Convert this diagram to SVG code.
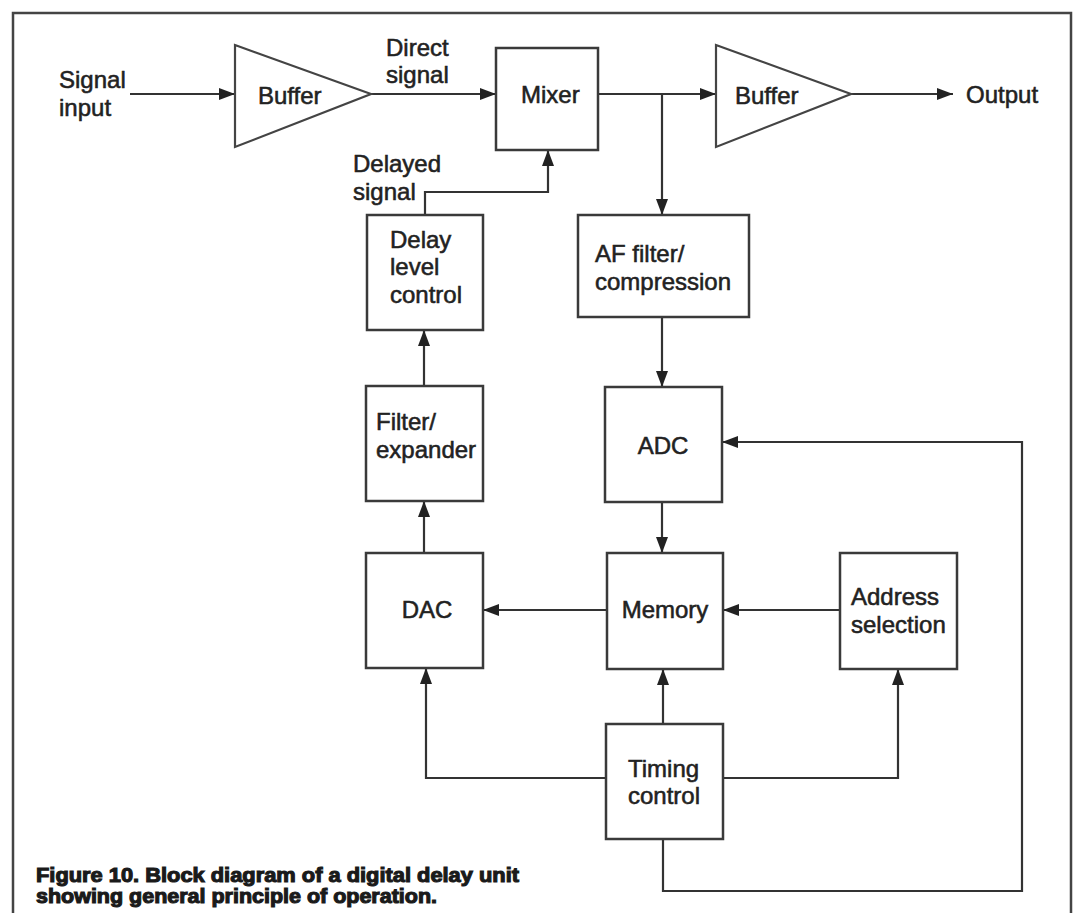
<svg xmlns="http://www.w3.org/2000/svg" width="1075" height="913" viewBox="0 0 1075 913">
<defs>
<style>
.box{fill:#fff;stroke:#3a3a3a;stroke-width:2.5}
.amp{fill:#fff;stroke:#444;stroke-width:2.2;stroke-linejoin:miter}
.lbl{font-family:"Liberation Sans",Arial,sans-serif;font-size:24px;fill:#222;stroke:#222;stroke-width:0.55}
.mid{text-anchor:middle}
.wire{fill:none;stroke:#333;stroke-width:2.2}
.arr{marker-end:url(#ah)}
.cap{font-family:"Liberation Sans",Arial,sans-serif;font-size:20px;font-weight:bold;fill:#1a1a1a;stroke:#1a1a1a;stroke-width:1.1}
.frame{fill:none;stroke:#444;stroke-width:2.5}
</style>
<marker id="ah" markerUnits="userSpaceOnUse" markerWidth="16" markerHeight="12" refX="16" refY="6" orient="auto">
<path d="M0,0 L16,6 L0,12 z" fill="#222"/>
</marker>
</defs>
<rect width="1075" height="913" fill="#fff"/>
<path class="frame" d="M13,913 V13 H1071 V913"/>

<g id="connectors">
<path class="wire arr" d="M130,94 H235"/>
<path class="wire arr" d="M371,94 H496"/>
<path class="wire arr" d="M598,94 H716"/>
<path class="wire arr" d="M662,94 V215"/>
<path class="wire arr" d="M851,94 H953"/>
<path class="wire arr" d="M425,215 V192 H548 V150"/>
<path class="wire arr" d="M424,386 V330"/>
<path class="wire arr" d="M424,553 V501"/>
<path class="wire arr" d="M662,317 V387"/>
<path class="wire arr" d="M662,502 V553"/>
<path class="wire arr" d="M607,610 H483"/>
<path class="wire arr" d="M840,610 H723"/>
<path class="wire arr" d="M663,724 V669"/>
<path class="wire arr" d="M723,778 H898 V669"/>
<path class="wire arr" d="M606,778 H426 V668"/>
<path class="wire arr" d="M663,839 V891 H1022 V442 H722"/>
</g>

<g id="signal-input"><text class="lbl" x="59" y="88">Signal</text><text class="lbl" x="59" y="116">input</text></g>
<g id="buffer-in"><polygon class="amp" points="235,45 371,94 235,147"/><text class="lbl" x="258" y="104">Buffer</text></g>
<g id="direct-signal"><text class="lbl" x="386" y="56">Direct</text><text class="lbl" x="386" y="83">signal</text></g>
<g id="mixer"><rect class="box" x="496" y="48" width="102" height="102"/><text class="lbl" x="521" y="103">Mixer</text></g>
<g id="buffer-out"><polygon class="amp" points="716,45 851,94 716,147"/><text class="lbl" x="735" y="104">Buffer</text></g>
<g id="output"><text class="lbl" x="966" y="103">Output</text></g>
<g id="delayed-signal"><text class="lbl" x="353" y="172">Delayed</text><text class="lbl" x="353" y="200">signal</text></g>
<g id="delay-level"><rect class="box" x="367" y="215" width="116" height="115"/><text class="lbl" x="390" y="248">Delay</text><text class="lbl" x="390" y="275">level</text><text class="lbl" x="390" y="303">control</text></g>
<g id="af-filter"><rect class="box" x="578" y="215" width="171" height="102"/><text class="lbl" x="595" y="262">AF filter/</text><text class="lbl" x="595" y="290">compression</text></g>
<g id="filter-expander"><rect class="box" x="366" y="386" width="117" height="115"/><text class="lbl" x="376" y="430">Filter/</text><text class="lbl" x="376" y="458">expander</text></g>
<g id="adc"><rect class="box" x="605" y="387" width="117" height="115"/><text class="lbl mid" x="663" y="454">ADC</text></g>
<g id="dac"><rect class="box" x="366" y="553" width="117" height="115"/><text class="lbl mid" x="427" y="618">DAC</text></g>
<g id="memory"><rect class="box" x="607" y="553" width="116" height="116"/><text class="lbl mid" x="665" y="618">Memory</text></g>
<g id="address"><rect class="box" x="840" y="553" width="117" height="116"/><text class="lbl" x="851" y="605">Address</text><text class="lbl" x="851" y="633">selection</text></g>
<g id="timing"><rect class="box" x="606" y="724" width="117" height="115"/><text class="lbl" x="628" y="777">Timing</text><text class="lbl" x="628" y="804">control</text></g>

<g id="caption">
<text class="cap" x="36" y="882" textLength="483" lengthAdjust="spacingAndGlyphs">Figure 10. Block diagram of a digital delay unit</text>
<text class="cap" x="36" y="903" textLength="401" lengthAdjust="spacingAndGlyphs">showing general principle of operation.</text>
</g>
</svg>
